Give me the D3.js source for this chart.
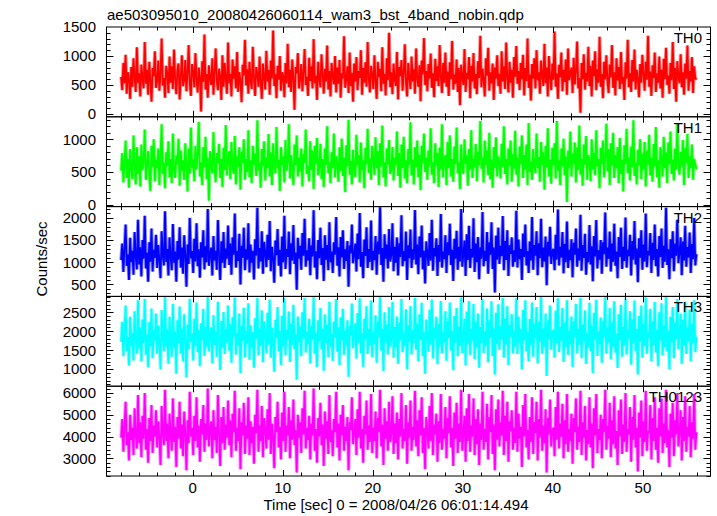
<!DOCTYPE html>
<html>
<head>
<meta charset="utf-8">
<script src="https://cdn.jsdelivr.net/npm/d3@7"></script>
<style>
html,body{margin:0;padding:0;background:#fff;}
svg{display:block;font-family:"Liberation Sans",Arial,Helvetica,sans-serif;}
</style>
</head>
<body>
<svg id="chart" width="717" height="516"></svg>
<script>
// ---------- DATA ----------
const title = "ae503095010_20080426060114_wam3_bst_4band_nobin.qdp";
const xLabel = "Time [sec] 0 = 2008/04/26 06:01:14.494";
const yLabel = "Counts/sec";
const bandNames = ["TH0", "TH1", "TH2", "TH3", "TH0123"];
const binStart = -8;      // first bin start time [s]
const binWidth = 0.125;   // bin width [s]
const xTicks = [0, 10, 20, 30, 40, 50];

const th0 = [
640,410,880,530,1020,350,720,590,260,810,470,960,620,380,1150,540,
700,300,850,610,440,1240,520,760,330,900,580,210,790,650,1080,450,
560,920,400,680,1300,490,620,280,830,710,360,990,540,820,430,1110,
600,340,760,870,250,640,1010,480,570,930,390,700,1190,520,310,860,
730,460,1050,590,370,800,640,40,910,550,1370,420,690,280,840,610,
500,960,330,720,1130,560,410,780,640,240,1010,470,880,600,350,1230,
530,690,300,940,610,820,440,1070,380,720,560,200,850,660,1280,490,
770,350,900,580,430,1160,620,310,810,700,470,990,540,260,870,640,
420,1090,560,760,330,920,610,1440,480,690,270,830,590,1000,400,720,
650,290,880,530,1210,460,760,380,940,620,70,810,700,1050,440,590,
860,390,720,1120,500,640,310,970,570,820,440,1290,530,660,240,900,
610,460,1030,690,350,780,560,1180,420,740,300,880,640,510,1000,370,
800,520,930,280,700,610,1340,450,590,820,360,1060,480,710,210,870,
560,980,410,740,620,1100,330,790,540,890,470,1240,600,370,830,680,
430,1010,560,260,900,640,780,390,1150,520,690,320,960,580,1400,460,
720,340,870,600,480,1070,250,810,650,930,400,700,1200,550,300,880,
620,430,990,560,770,350,1130,600,470,840,220,920,680,1310,500,740,
390,860,610,1040,450,700,290,950,570,820,480,1190,630,360,880,540,
1060,470,730,310,890,600,1260,420,680,520,940,380,790,150,850,640,
500,1120,380,710,600,980,270,830,560,1050,440,690,340,910,620,1350,
460,780,590,300,960,660,1140,400,720,530,870,240,800,610,1010,480,
690,350,1080,560,820,430,1230,620,370,900,540,760,280,980,640,1170,
520,740,410,880,600,1020,320,790,570,1300,450,680,230,860,610,960,
440,1100,580,720,350,920,660,480,1210,530,800,300,1000,620,410,870,
590,1420,470,700,260,850,630,1060,390,760,550,940,330,1130,580,690,
800,360,970,510,740,1250,440,620,20,880,600,1030,420,710,560,1160,
480,830,300,920,650,1080,410,770,540,1330,470,690,270,900,600,1010,
570,360,850,630,1190,450,720,320,960,580,810,430,1070,520,640,240,
890,610,1280,460,700,380,930,560,1110,420,760,610,290,860,540,1020,
680,400,900,590,1350,470,730,310,840,620,1060,380,700,540,990,440,
760,280,950,600,1140,500,660,350,880,580,1240,430,790,210,910,640,
530,1030,460,720,330,870,610,1180,400,740,560,980,360,820,620,590];

const th1 = [
520,790,340,650,980,410,700,260,850,560,390,1060,600,310,880,470,
740,280,920,530,660,1150,380,610,820,450,210,900,580,1000,360,690,
560,860,300,720,1230,470,640,250,800,590,970,420,700,330,1090,540,
410,750,620,1010,290,830,520,680,380,940,600,200,860,470,1180,560,
690,360,900,540,780,1270,430,650,300,880,570,1040,390,720,60,820,
600,480,1110,560,340,790,640,930,410,700,270,870,530,1220,450,660,
820,390,960,600,470,1050,310,740,580,880,230,810,640,1000,380,700,
500,1140,420,680,330,900,610,780,440,1290,520,650,260,850,590,970,
370,720,560,1080,430,800,300,940,620,480,1190,550,690,210,880,610,
740,340,990,520,660,1230,400,760,570,300,920,600,1060,430,720,510,
860,280,780,640,1150,470,590,360,970,540,830,240,900,620,1020,450,
570,930,390,700,270,860,610,1200,480,650,330,800,560,1090,420,740,
620,350,880,510,1010,440,720,190,910,590,1300,460,670,310,840,550,
420,1070,600,760,340,950,530,680,250,870,620,1160,490,710,380,900,
700,460,1030,560,820,300,940,590,1210,420,650,280,860,610,990,470,
530,880,370,720,600,1120,440,790,260,920,560,1040,400,680,330,850,
610,1260,450,690,310,880,570,980,420,760,220,900,640,1090,500,720,
380,830,590,1170,460,650,330,940,600,790,270,870,540,1230,420,680,
760,300,960,560,1060,430,700,350,890,620,1180,480,650,240,920,580,
470,1000,620,760,290,850,540,1140,410,700,570,930,360,810,600,1280,
550,720,340,980,610,830,450,1100,390,690,260,880,560,1030,430,740,
640,400,930,580,1200,470,700,310,860,600,980,350,770,550,1130,460,
720,280,890,620,1060,410,760,540,920,300,1250,500,660,380,850,590,
480,1090,560,730,350,960,610,800,230,900,570,1170,430,690,320,870,
600,940,400,1280,520,680,300,860,590,1010,450,740,40,830,560,1120,
430,780,620,950,340,880,530,1210,460,700,290,920,610,1050,380,760,
650,360,1000,540,790,450,1140,580,700,250,870,620,980,420,730,1240,
510,850,300,940,600,1100,410,760,560,880,330,1020,470,690,200,910,
620,1160,480,720,370,890,570,1290,440,650,310,840,600,1000,390,780,
540,960,280,830,610,1070,450,720,350,930,580,1190,420,680,260,880,
700,430,1040,560,800,330,950,620,1120,470,690,370,860,540,1230,600,
460,810,590,990,300,870,640,1080,410,740,560,920,380,700,610,540];

const th2 = [
1050,1420,780,1300,1850,920,1180,600,1550,1000,1260,720,1680,1120,840,1960,
950,1340,680,1500,1080,2050,860,1220,560,1450,1010,1760,790,1280,1100,1620,
870,1390,1040,640,1700,1150,930,2150,1010,1300,700,1560,1120,820,1860,990,
1240,560,1480,1060,1790,880,1330,740,1610,1170,450,1400,960,2000,1090,1250,
760,1530,1020,1880,910,1290,650,1450,1110,1720,840,1360,1000,2200,920,1180,
1330,700,1590,1040,1260,830,1950,1130,600,1470,990,1680,870,1310,1080,1830,
940,1420,720,1560,1170,2100,880,1250,1030,1640,500,1370,1100,1780,820,1290,
1060,1880,770,1400,990,1260,610,1520,1150,2230,860,1320,1020,1700,740,1460,
1210,890,1620,1050,1930,800,1350,1090,540,1490,1160,1750,920,1280,680,1580,
1000,2050,850,1300,1120,1690,730,1430,1040,1840,960,1220,380,1550,1080,1370,
830,1660,1150,1980,900,1270,1040,1540,710,1380,1130,2170,880,1250,620,1500,
1090,1780,940,1320,580,1610,1060,1390,820,1900,1000,1240,760,1450,1170,2020,
920,1340,680,1570,1110,1720,850,1290,1030,1480,450,1380,1200,1850,980,1160,
1420,790,1650,1070,2110,900,1230,640,1510,1140,1790,870,1300,1010,1940,820,
1260,1050,1590,720,1470,1180,2240,940,1320,560,1630,1080,1400,860,1750,1020,
1150,1880,800,1350,990,1560,700,1430,1120,2060,910,1250,1030,1690,600,1380,
1090,1740,870,1290,1060,2180,950,1400,730,1580,1110,1830,840,1260,520,1470,
1200,920,1660,1040,1960,810,1320,1130,1540,690,1390,1010,2090,880,1240,1070,
1610,760,1450,1160,1870,940,1280,580,1530,1080,1710,830,1350,1020,2200,900,
1180,1490,690,1630,1050,1820,870,1300,1110,1990,780,1420,1000,1570,620,1340,
1080,2130,910,1260,1030,1680,740,1450,1170,1900,850,1330,320,1600,1060,1780,
960,1370,1140,2040,820,1480,1050,1720,690,1380,1190,1560,900,1270,1010,2160,
880,1510,1070,1300,600,1650,1120,1850,930,1250,760,1470,1040,2020,830,1390,
1150,1700,710,1430,1090,1980,890,1330,1020,1580,480,1460,1130,1800,960,1240,
1300,820,1620,1060,2190,930,1350,1110,1680,750,1410,1000,1920,870,1280,1050,
1520,660,1440,1170,1760,900,1310,1040,2070,810,1390,1100,1640,720,1230,1000,
1840,950,1360,570,1590,1130,1950,860,1270,1060,1500,740,1450,1180,2120,900,
1330,1080,1690,790,1420,1010,1870,920,1240,640,1570,1120,1780,850,1350,1030,
2010,880,1280,1140,1620,700,1480,1060,1930,950,1310,550,1540,1100,1720,830,
1400,1020,2100,890,1250,1160,1660,760,1440,1050,1850,910,1300,680,1590,1120,
1760,870,1370,1010,2230,940,1290,620,1520,1090,1700,800,1420,1150,1960,980,
1230,1560,710,1470,1040,1820,900,1340,1110,1670,760,1410,1070,2000,930,1180];

const th3 = [
1720,2250,1340,2000,2680,1480,1850,1100,2380,1620,1960,1230,2530,1770,1410,2820,
1530,2100,1200,2310,1690,2850,1380,1920,1050,2240,1600,2600,1290,2020,1750,2470,
1410,2150,1660,1000,2560,1810,1480,2900,1590,2050,1140,2380,1740,1330,2720,1560,
1980,880,2290,1680,2650,1420,2070,1210,2450,1800,790,2180,1530,2860,1720,1950,
1230,2330,1610,2760,1450,2030,1080,2210,1760,2590,1350,2120,1590,2900,1470,1880,
2100,1150,2420,1640,1990,1330,2780,1780,980,2270,1570,2510,1400,2060,1700,2680,
1490,2200,1170,2370,1840,2890,1390,1960,1620,2470,900,2150,1750,2620,1310,2010,
1690,2740,1250,2160,1570,1980,1040,2340,1800,2880,1360,2070,1620,2550,1180,2260,
1910,1420,2490,1650,2830,1300,2090,1710,930,2300,1820,2640,1480,2010,1110,2410,
1600,2870,1370,2040,1770,2520,1190,2210,1640,2700,1530,1920,720,2390,1710,2130,
1340,2500,1810,2880,1440,1990,1660,2330,1150,2150,1780,2900,1410,1960,1060,2290,
1730,2610,1520,2070,960,2440,1690,2180,1320,2780,1600,1940,1220,2250,1850,2850,
1460,2100,1110,2360,1760,2590,1380,2020,1640,2290,800,2140,1890,2730,1550,1830,
2210,1280,2480,1700,2870,1430,1950,1060,2330,1790,2660,1400,2060,1620,2810,1320,
1990,1660,2420,1170,2260,1850,2900,1490,2070,950,2500,1710,2180,1390,2640,1600,
1800,2770,1300,2110,1580,2390,1140,2230,1760,2850,1450,1960,1620,2580,1000,2150,
1720,2660,1390,2030,1690,2880,1510,2200,1200,2440,1770,2750,1340,1980,880,2310,
1890,1460,2570,1650,2840,1280,2090,1790,2380,1130,2190,1600,2800,1420,1970,1700,
2530,1220,2270,1830,2760,1490,2010,970,2400,1700,2610,1340,2120,1610,2890,1430,
1850,2330,1100,2520,1660,2800,1380,2060,1750,2720,1270,2250,1580,2470,1040,2110,
1690,2850,1430,1990,1620,2600,1180,2290,1830,2790,1350,2080,860,2490,1670,2710,
1510,2140,1790,2880,1300,2330,1650,2660,1110,2170,1860,2450,1420,2000,1590,2870,
1400,2380,1680,2050,990,2560,1760,2820,1470,1970,1200,2320,1640,2760,1330,2190,
1810,2640,1150,2250,1720,2900,1410,2080,1600,2470,820,2290,1790,2680,1520,1950,
2040,1300,2540,1680,2870,1450,2120,1750,2610,1190,2230,1580,2820,1380,2010,1650,
2390,1060,2270,1830,2720,1420,2070,1640,2880,1290,2180,1730,2550,1140,1960,1570,
2750,1480,2140,900,2490,1780,2830,1350,1990,1660,2360,1170,2280,1850,2900,1410,
2100,1700,2610,1260,2240,1580,2790,1440,1940,1030,2450,1760,2700,1330,2120,1620,
2860,1390,2030,1790,2530,1120,2310,1670,2810,1480,2060,860,2400,1730,2680,1300,
2200,1610,2890,1410,1980,1820,2590,1200,2270,1640,2770,1440,2040,1080,2500,1750,
2740,1360,2150,1580,2900,1470,2010,990,2380,1710,2640,1290,2230,1800,2850,1530,
1930,2460,1140,2300,1620,2780,1400,2100,1740,2570,1210,2190,1680,2820,1450,1860];

const th0123 = [
3950,4800,3300,4500,5600,3600,4200,2900,5000,3850,4400,3150,5300,4050,3450,5900,
3700,4650,3050,4950,3900,6000,3400,4350,2800,4850,3800,5450,3250,4500,4000,5200,
3500,4700,3950,2700,5400,4150,3600,6150,3800,4600,3000,5050,4100,3350,5750,3750,
4450,2600,4900,3900,5600,3450,4550,3100,5150,4200,2450,4750,3700,6050,4000,4400,
3150,4950,3800,5800,3500,4500,2850,4800,4100,5450,3300,4600,3850,6200,3550,4300,
4700,3000,5200,3850,4450,3250,5900,4100,2650,4900,3700,5350,3400,4550,3950,5650,
3600,4750,3050,5050,4200,6100,3350,4400,3800,5300,2500,4650,4050,5550,3200,4500,
3900,5800,3150,4700,3700,4450,2750,5000,4150,6150,3300,4500,3800,5400,3050,4850,
4350,3450,5250,3850,6000,3200,4600,3950,2550,4900,4200,5600,3500,4450,2950,5100,
3800,6050,3300,4500,4050,5350,3000,4750,3850,5700,3600,4300,2350,5000,3950,4650,
3250,5300,4100,6100,3450,4400,3850,4950,2950,4600,4050,6200,3350,4350,2800,4850,
4000,5550,3600,4550,2650,5150,3900,4700,3200,5900,3750,4300,3100,4800,4200,6050,
3500,4600,2900,5000,4050,5450,3350,4450,3800,4900,2450,4650,4300,5800,3650,4150,
4800,3150,5250,3950,6050,3450,4350,2800,4950,4100,5650,3400,4500,3750,5950,3250,
4400,3800,5150,3000,4850,4200,6150,3550,4550,2700,5300,3900,4700,3350,5600,3750,
4100,5850,3200,4600,3700,5100,2950,4800,4000,6000,3450,4350,3800,5450,2750,4650,
3950,5650,3350,4450,3850,6100,3550,4750,3100,5200,4050,5800,3250,4400,2500,4900,
4250,3450,5400,3800,6000,3150,4550,4100,5050,2850,4700,3700,5950,3400,4350,3900,
5350,3000,4850,4150,5850,3500,4400,2650,5100,3900,5550,3250,4600,3750,6150,3350,
4200,4950,2850,5300,3800,5950,3300,4500,4000,5750,3150,4800,3650,5250,2700,4600,
3850,6050,3400,4350,3750,5500,2950,4900,4200,5900,3200,4550,2450,5250,3850,5700,
3550,4650,4050,6100,3150,4950,3800,5600,2850,4700,4250,5200,3400,4400,3700,6050,
3300,5050,3900,4450,2600,5450,4000,5950,3500,4300,2950,4900,3750,5800,3200,4650,
4150,5600,2900,4800,3950,6150,3350,4500,3700,5250,2350,4850,4100,5700,3550,4300,
4400,3100,5350,3850,6050,3450,4600,4000,5500,3000,4750,3650,5950,3300,4350,3800,
5050,2750,4850,4200,5750,3400,4450,3750,6100,3150,4650,3950,5400,2900,4300,3650,
5800,3500,4600,2550,5300,4050,5950,3250,4350,3850,5000,3000,4800,4200,6150,3400,
4500,3900,5550,3050,4750,3650,5850,3450,4250,2700,5200,4000,5700,3200,4550,3750,
6000,3300,4350,4100,5350,2850,4900,3850,5900,3500,4400,2400,5100,3950,5650,3100,
4700,3750,6100,3350,4250,4150,5450,2950,4850,3800,5800,3400,4400,2800,5300,4000,
5750,3250,4600,3700,6150,3500,4300,2600,5050,3950,5550,3100,4750,4100,6000,3550,
4150,5200,2900,4900,3800,5850,3300,4450,4000,5400,3050,4650,3900,5950,3400,4200];

const seriesValues = [th0, th1, th2, th3, th0123];
const yDomains = [[-50, 1500], [-30, 1345], [230, 2255], [550, 2920], [2190, 6310]];
const yMajorTicks = [[0, 500, 1000, 1500], [0, 500, 1000], [500, 1000, 1500, 2000], [1000, 1500, 2000, 2500], [3000, 4000, 5000, 6000]];
const yMinorStep = [100, 100, 100, 100, 200];
const colors = ["#ff0000", "#00ff00", "#0000ff", "#00ffff", "#ff00ff"];

// ---------- LAYOUT ----------
const svg = d3.select("#chart");
const pLeft = 106.5, pRight = 710.5, pTop = 27, pBottom = 476;
const nP = 5;
const ph = (pBottom - pTop) / nP;

const x = d3.scaleLinear().domain([-9.56, 57.5]).range([pLeft, pRight]);
const xMinor = d3.range(-8, 57, 2);

svg.append("text").attr("x", 107).attr("y", 19.5)
  .attr("font-size", 15).attr("fill", "#000").text(title);

svg.append("defs").selectAll("clipPath").data(d3.range(nP)).join("clipPath")
  .attr("id", i => "clip" + i)
  .append("rect")
  .attr("x", pLeft).attr("y", i => pTop + i * ph)
  .attr("width", pRight - pLeft).attr("height", ph);

for (let p = 0; p < nP; p++) {
  const y0 = pTop + p * ph, y1 = y0 + ph;
  const y = d3.scaleLinear().domain(yDomains[p]).range([y1, y0]);
  const vals = seriesValues[p];
  const pts = vals.map((v, i) => [binStart + (i + 0.5) * binWidth, v]);
  const g = svg.append("g");

  const line = d3.line().x(d => x(d[0])).y(d => y(d[1]));
  const dPath = line(pts);
  // soft antialiased fringe (lighter), then the solid trace
  g.append("path").attr("d", dPath)
    .attr("clip-path", `url(#clip${p})`)
    .attr("fill", "none").attr("stroke", colors[p])
    .attr("stroke-width", 3.6).attr("stroke-linejoin", "bevel")
    .attr("stroke-opacity", 0.45);
  g.append("path").attr("d", dPath)
    .attr("clip-path", `url(#clip${p})`)
    .attr("fill", "none").attr("stroke", colors[p])
    .attr("stroke-width", 1.8).attr("stroke-linejoin", "bevel");

  // frame
  g.append("rect").attr("x", pLeft).attr("y", y0).attr("width", pRight - pLeft).attr("height", ph)
    .attr("fill", "none").attr("stroke", "#000").attr("stroke-width", 1);

  const tg = g.append("g").attr("stroke", "#000").attr("stroke-width", 1);
  // x ticks top & bottom
  xMinor.forEach(t => {
    const major = xTicks.includes(t);
    const L = major ? 6 : 3.5;
    const xx = Math.round(x(t)) + 0.5;
    tg.append("line").attr("x1", xx).attr("x2", xx).attr("y1", y1).attr("y2", y1 - L);
    tg.append("line").attr("x1", xx).attr("x2", xx).attr("y1", y0).attr("y2", y0 + L);
  });
  // y ticks left & right
  const [d0, d1] = yDomains[p];
  const minor = d3.range(Math.ceil(d0 / yMinorStep[p]) * yMinorStep[p], d1, yMinorStep[p]);
  minor.forEach(v => {
    const major = yMajorTicks[p].includes(v);
    const L = major ? 7 : 4;
    const yy = Math.round(y(v)) + 0.5;
    tg.append("line").attr("x1", pLeft).attr("x2", pLeft + L).attr("y1", yy).attr("y2", yy);
    tg.append("line").attr("x1", pRight).attr("x2", pRight - L).attr("y1", yy).attr("y2", yy);
  });
  // y tick labels
  g.selectAll("text.yt").data(yMajorTicks[p]).join("text")
    .attr("class", "yt")
    .attr("x", 96).attr("y", v => y(v) + 5.3)
    .attr("text-anchor", "end").attr("font-size", 15).attr("fill", "#000")
    .text(v => v);
  // band name
  g.append("text").attr("x", 702).attr("y", y0 + 16)
    .attr("text-anchor", "end").attr("font-size", 15).attr("fill", "#000")
    .text(bandNames[p]);
}

// x tick labels
svg.selectAll("text.xt").data(xTicks).join("text")
  .attr("class", "xt")
  .attr("x", t => x(t)).attr("y", 493)
  .attr("text-anchor", "middle").attr("font-size", 15).attr("fill", "#000")
  .text(t => t);

svg.append("text").attr("x", 396).attr("y", 510)
  .attr("text-anchor", "middle").attr("font-size", 15).attr("fill", "#000")
  .text(xLabel);

svg.append("text").attr("transform", "translate(47,259) rotate(-90)")
  .attr("text-anchor", "middle").attr("font-size", 15).attr("fill", "#000")
  .text(yLabel);
</script>
</body>
</html>
